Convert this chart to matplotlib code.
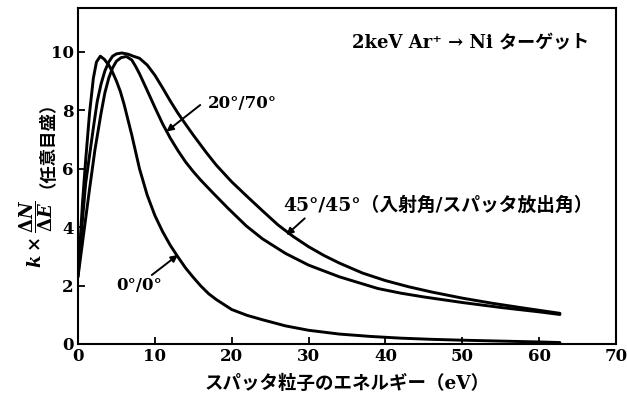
import matplotlib
matplotlib.use("Agg")
import matplotlib.pyplot as plt

## Fonts: serif bold for latin, Japanese falls back to Noto CJK
plt.rcParams['font.family'] = ['DejaVu Serif', 'Noto Sans CJK JP']
plt.rcParams['font.weight'] = 'bold'
plt.rcParams['mathtext.fontset'] = 'custom'
plt.rcParams['mathtext.rm'] = 'DejaVu Serif:bold'
plt.rcParams['mathtext.it'] = 'DejaVu Serif:italic:bold'
plt.rcParams['mathtext.bf'] = 'DejaVu Serif:bold'

## Data (energy in eV, k*dN/dE arbitrary units)
e_00 = [0, 0.3, 0.6, 1.0, 1.5, 2.0, 2.4, 2.9, 3.4, 4.0, 4.5, 5.0, 5.5, 6.0, 7.0, 8.0, 9.0, 10.0,
        11.0, 12.0, 13.0, 14.0, 15.0, 16.0, 17.0, 18.0, 20.0, 22.0, 24.0, 27.0, 30.0, 34.0,
        38.0, 42.0, 46.0, 50.0, 55.0, 60.0, 62.7]
y_00 = [2.4, 3.6, 4.9, 6.3, 7.9, 9.1, 9.65, 9.85, 9.75, 9.55, 9.3, 9.0, 8.65, 8.2, 7.15, 6.0, 5.1, 4.4,
        3.85, 3.38, 2.98, 2.6, 2.28, 1.98, 1.72, 1.52, 1.18, 0.98, 0.83, 0.62, 0.47, 0.34,
        0.26, 0.2, 0.16, 0.13, 0.1, 0.07, 0.05]

e_4545 = [0, 0.3, 0.6, 1.0, 1.6, 2.0, 2.5, 3.0, 3.5, 4.0, 4.5, 5.0, 5.7, 6.5, 7.2, 8.0, 9.0, 10.0,
          11.0, 12.0, 13.0, 14.0, 15.0, 16.7, 18.0, 20.0, 22.0, 24.0, 26.0, 28.0, 30.0, 32.0,
          34.0, 37.0, 40.0, 43.0, 46.0, 50.0, 54.0, 58.0, 62.7]
y_4545 = [2.3, 3.3, 4.3, 5.5, 6.64, 7.4, 8.3, 8.9, 9.35, 9.65, 9.85, 9.93, 9.96, 9.92, 9.85, 9.78, 9.55, 9.2,
          8.77, 8.32, 7.9, 7.52, 7.15, 6.55, 6.12, 5.55, 5.05, 4.56, 4.08, 3.68, 3.33, 3.03,
          2.77, 2.43, 2.17, 1.96, 1.78, 1.57, 1.39, 1.23, 1.05]

e_2070 = [0, 0.5, 1.0, 1.5, 2.2, 3.0, 3.5, 4.0, 4.5, 5.0, 5.6, 6.3, 7.0, 7.5, 8.0, 9.0, 10.0,
          11.0, 12.0, 13.0, 14.0, 15.0, 16.0, 17.6, 19.5, 21.9, 24.0, 27.0, 30.0, 34.0, 39.0,
          42.0, 45.0, 50.0, 55.0, 60.0, 62.7]
y_2070 = [2.3, 3.3, 4.3, 5.3, 6.64, 7.9, 8.6, 9.1, 9.45, 9.68, 9.8, 9.84, 9.72, 9.5, 9.25, 8.68, 8.1,
          7.54, 7.05, 6.62, 6.23, 5.9, 5.6, 5.16, 4.65, 4.04, 3.6, 3.1, 2.7, 2.3, 1.9,
          1.74, 1.61, 1.42, 1.25, 1.1, 1.01]

x_ticks = [0, 10, 20, 30, 40, 50, 60, 70]
y_ticks = [0, 2, 4, 6, 8, 10]

fig = plt.figure(figsize=(6.27, 4.0), dpi=100)
ax = fig.add_axes([0.1244, 0.14, 0.8581, 0.84])

for e, y in [(e_00, y_00), (e_4545, y_4545), (e_2070, y_2070)]:
    ax.plot(e, y, color='black', lw=2.1, solid_capstyle='round', solid_joinstyle='round')

ax.set_xlim(0, 70)
ax.set_ylim(0, 11.5)
ax.set_xticks(x_ticks)
ax.set_yticks(y_ticks)
ax.tick_params(direction='in', length=5, width=1.3, labelsize=12, pad=3)
for lab in ax.get_xticklabels() + ax.get_yticklabels():
    lab.set_fontweight('bold')
for s in ax.spines.values():
    s.set_linewidth(1.5)

ax.set_xlabel('スパッタ粒子のエネルギー（eV）', fontsize=13.3, fontweight='bold', labelpad=7)

## y label in two pieces: math part and the Japanese note
fig.text(0.057, 0.415, r'$k\times\dfrac{\mathit{\Delta N}}{\mathit{\Delta E}}$',
         rotation=90, fontsize=13, ha='center', va='center')
fig.text(0.062, 0.66, '（任意目盛）', rotation=90, fontsize=12.5, fontweight='bold',
         ha='center', va='center')

## Labels and arrows
ax.text(35.6, 10.3, '2keV Ar⁺ → Ni ターゲット', fontsize=13, fontweight='bold',
        ha='left', va='center')
ax.text(16.9, 8.24, '20°/70°', fontsize=12, fontweight='bold', ha='left', va='center')
ax.annotate('', xy=(11.5, 7.27), xytext=(15.9, 8.18),
            arrowprops=dict(arrowstyle='-|>', lw=1.4, color='black', mutation_scale=10,
                            shrinkA=0, shrinkB=0))
ax.text(26.7, 4.72, '45°/45°（入射角/スパッタ放出角）', fontsize=13.5, fontweight='bold',
        ha='left', va='center')
ax.annotate('', xy=(27.1, 3.73), xytext=(29.5, 4.3),
            arrowprops=dict(arrowstyle='-|>', lw=1.4, color='black', mutation_scale=10,
                            shrinkA=0, shrinkB=0))
ax.text(7.9, 2.0, '0°/0°', fontsize=12, fontweight='bold', ha='center', va='center')
ax.annotate('', xy=(13.0, 3.05), xytext=(9.6, 2.36),
            arrowprops=dict(arrowstyle='-|>', lw=1.4, color='black', mutation_scale=10,
                            shrinkA=0, shrinkB=0))

fig.savefig('out.png', dpi=100)
